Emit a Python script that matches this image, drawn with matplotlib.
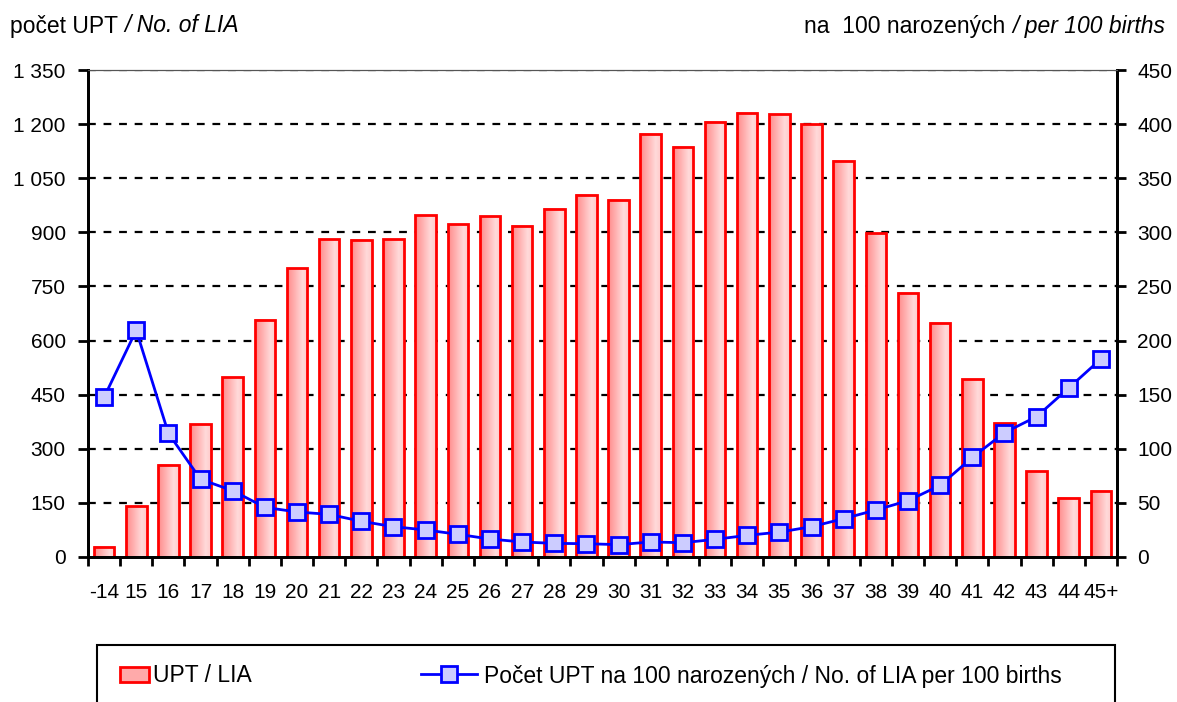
import numpy as np
import matplotlib
matplotlib.use("Agg")
import matplotlib.pyplot as plt
from matplotlib.patches import Rectangle
from matplotlib.lines import Line2D

categories = ["-14", "15", "16", "17", "18", "19", "20", "21", "22", "23", "24", "25",
              "26", "27", "28", "29", "30", "31", "32", "33", "34", "35", "36", "37",
              "38", "39", "40", "41", "42", "43", "44", "45+"]
upt_counts = [28, 141, 256, 368, 498, 657, 801, 881, 879, 881, 948, 923,
              945, 918, 965, 1004, 990, 1173, 1137, 1206, 1231, 1228, 1200, 1098,
              898, 732, 649, 493, 371, 238, 164, 183]
upt_per_100 = [147.6, 209.5, 114.3, 71.8, 61.3, 45.9, 41.6, 39.4, 33.0, 28.0, 25.0, 21.0,
               16.6, 13.9, 12.6, 12.3, 11.4, 13.9, 13.2, 16.3, 20.0, 23.0, 28.0, 35.4,
               43.4, 52.0, 66.2, 92.0, 114.9, 129.7, 156.2, 183.0]
left_ticks = [0, 150, 300, 450, 600, 750, 900, 1050, 1200, 1350]
left_labels = ["0", "150", "300", "450", "600", "750", "900", "1 050", "1 200", "1 350"]
right_ticks = [0, 50, 100, 150, 200, 250, 300, 350, 400, 450]

plt.rcParams['font.family'] = ['Liberation Sans', 'DejaVu Sans']
FS_TICK = 15
FS_TXT = 16.5

fig = plt.figure(figsize=(11.77, 7.02), dpi=100)
ax = fig.add_axes([88/1177, 1-557/702, (1117-88)/1177, (557-70)/702])
ax2 = ax.twinx()

n = len(categories)
x = np.arange(n)

# grid
for t in left_ticks[1:]:
    ax.axhline(t, color='black', lw=1.6, ls=(0, (3.5, 3.5)), zorder=0.5)

# gradient bars
grad = np.linspace(0, 1, 64)
cmap = matplotlib.colors.LinearSegmentedColormap.from_list(
    "g", [(0, "#ff8a8a"), (0.75, "#ffdada"), (1.0, "#ffcaca")])
gimg = cmap(grad)[None, :, :]
w = 0.64
for xi, v in zip(x, upt_counts):
    ax.imshow(gimg, extent=(xi - w/2, xi + w/2, 0, v), aspect='auto', zorder=1,
              interpolation='bilinear')
ax.bar(x, upt_counts, width=w, facecolor='none', edgecolor='#ff0000', lw=2, zorder=2)
ax.set_xlim(-0.5, n-0.5)
ax.set_ylim(0, 1350)
ax2.set_ylim(0, 450)

ax2.plot(x, upt_per_100, color='#0000ff', lw=2, marker='s', markersize=11.5,
         markerfacecolor='#ccccff', markeredgecolor='#0000ff', markeredgewidth=2, zorder=5)

ax.set_yticks(left_ticks)
ax.set_yticklabels(left_labels, fontsize=FS_TICK)
ax2.set_yticks(right_ticks)
ax2.set_yticklabels([str(t) for t in right_ticks], fontsize=FS_TICK)
ax.set_xticks(x)
ax.set_xticklabels(categories, fontsize=FS_TICK)
ax.set_xticks(np.arange(n+1) - 0.5, minor=True)
ax.tick_params(axis='x', which='major', length=0, pad=19)
ax.tick_params(axis='x', which='minor', length=6.5, width=2, direction='out')
ax.tick_params(axis='y', length=7, width=2, direction='out', pad=9)
ax2.tick_params(axis='y', length=6.5, width=2, direction='out', pad=8)

for a in (ax, ax2):
    a.spines['left'].set_linewidth(2)
    a.spines['right'].set_linewidth(2)
    a.spines['bottom'].set_linewidth(2)
    a.spines['top'].set_linewidth(0.8)
    a.spines['top'].set_color('#555555')
ax2.set_zorder(ax.get_zorder() + 1)
ax2.patch.set_visible(False)

# header texts
t1 = fig.text(10/1177, 1-26/702, "počet UPT ", fontsize=FS_TXT, va='center', ha='left')
fig.canvas.draw()
ax.annotate("/ No. of LIA", xy=(1, 0), xycoords=t1, fontsize=FS_TXT, style='italic',
            va='bottom', ha='left', annotation_clip=False)
t2 = fig.text(1165/1177, 1-26/702, "/ per 100 births", fontsize=FS_TXT, style='italic',
              va='center', ha='right')
ax.annotate("na  100 narozených ", xy=(0, 0), xycoords=t2, fontsize=FS_TXT,
            va='bottom', ha='right', annotation_clip=False)

# legend box
fig.patches.append(Rectangle((97/1177, -0.05), (1115-97)/1177, 0.05 + (702-645)/702,
                             transform=fig.transFigure, facecolor='white',
                             edgecolor='black', lw=1.5))
h1 = Rectangle((0, 0), 1, 1, facecolor='#ffaaaa', edgecolor='#ff0000', lw=2)
h2 = Line2D([], [], color='#0000ff', lw=2, marker='s', markersize=11,
            markerfacecolor='#ccccff', markeredgecolor='#0000ff', markeredgewidth=2)
leg1 = fig.legend([h1], ["UPT / LIA"], loc='center left',
                  bbox_to_anchor=(99/1177, 1-676/702), frameon=False,
                  fontsize=FS_TXT, handlelength=1.3, handleheight=0.65, handletextpad=0.15)
leg2 = fig.legend([h2], ["Počet UPT na 100 narozených / No. of LIA per 100 births"],
                  loc='center left', bbox_to_anchor=(400/1177, 1-676/702), frameon=False,
                  fontsize=FS_TXT, handlelength=2.45, handletextpad=0.3)

fig.savefig("out.png", dpi=100)
